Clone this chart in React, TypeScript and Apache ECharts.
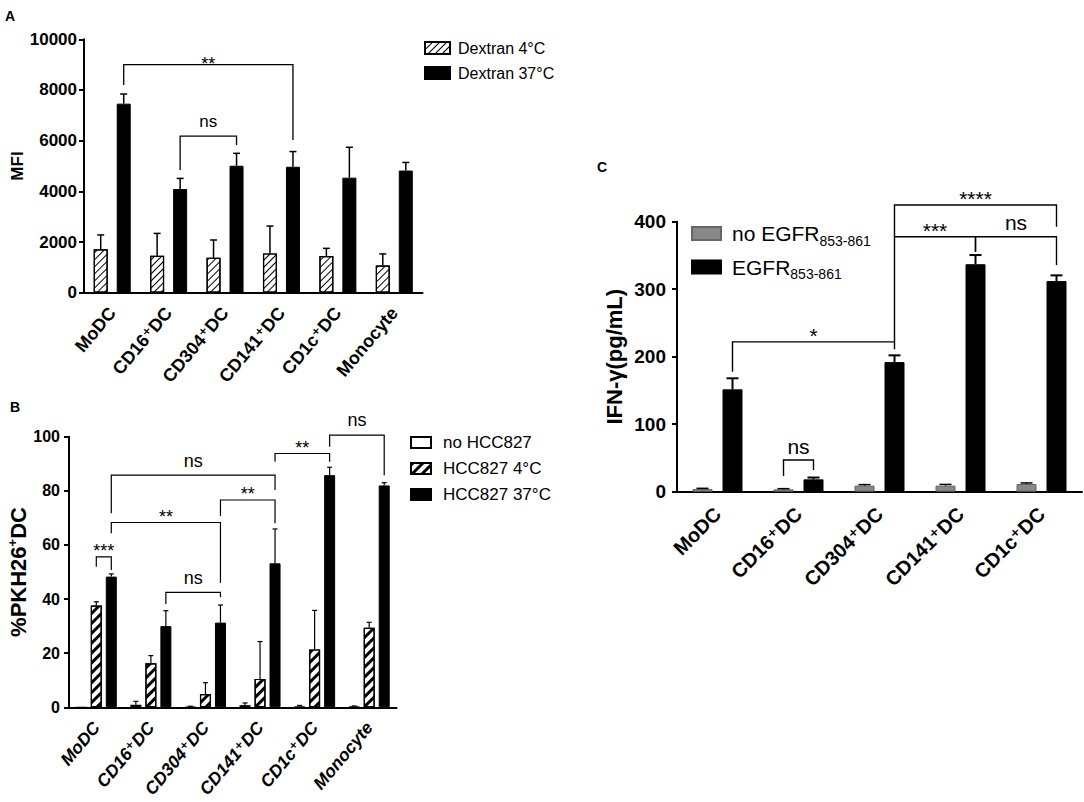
import React, { useEffect, useRef } from "react";
import * as echarts from "echarts";

// ---------- data ----------
const catsAB = ["MoDC", "CD16⁺DC", "CD304⁺DC", "CD141⁺DC", "CD1c⁺DC", "Monocyte"];
const catsC = ["MoDC", "CD16⁺DC", "CD304⁺DC", "CD141⁺DC", "CD1c⁺DC"];

const ticksA = [0, 2000, 4000, 6000, 8000, 10000];
const dextran4 = [1710, 1460, 1380, 1550, 1450, 1070];
const dextran4Err = [2280, 2340, 2080, 2630, 1750, 1530];
const dextran37 = [7460, 4090, 5010, 4970, 4540, 4820];
const dextran37Err = [7840, 4510, 5500, 5570, 5740, 5140];

const noHcc = [0, 0.9, 0.2, 0.8, 0.3, 0.3];
const noHccErr = [0, 2.2, 0.4, 1.6, 0.7, 0.5];
const hcc4 = [37.6, 16.3, 4.9, 10.5, 21.4, 29.4];
const hcc4Err = [39.0, 19.1, 9.1, 24.3, 35.8, 31.4];
const hcc37 = [48.3, 30.0, 31.3, 53.2, 85.8, 82.0];
const hcc37Err = [49.3, 35.7, 37.8, 65.9, 88.7, 83.0];

const noEgfr = [4, 3.5, 9, 9, 11.4];
const noEgfrErr = [5, 4.5, 10.5, 10.8, 13];
const egfr = [151.6, 18.3, 192, 337, 312];
const egfrErr = [168, 21, 202, 350.6, 320.5];

// brackets: a/b category index, as/bs bar index in group, top & end values, label
const bracketsA = [
  { a: 0, as: 1, b: 3, bs: 1, top: 9000, ya: 8200, yb: 6030, t: "**" },
  { a: 1, as: 1, b: 2, bs: 1, top: 6180, ya: 4840, yb: 5830, t: "ns" },
];
const bracketsB = [
  { a: 0, as: 1, b: 0, bs: 2, top: 55.6, ya: 51.9, yb: 50.7, t: "***" },
  { a: 0, as: 2, b: 2, bs: 2, top: 68.3, ya: 64.3, yb: 45.9, t: "**" },
  { a: 1, as: 2, b: 2, bs: 2, top: 42.5, ya: 38.2, yb: 40.7, t: "ns" },
  { a: 2, as: 2, b: 3, bs: 2, top: 76.6, ya: 70.7, yb: 68.0, t: "**" },
  { a: 0, as: 2, b: 3, bs: 2, top: 85.8, ya: 71.7, yb: 80.3, t: "ns" },
  { a: 3, as: 2, b: 4, bs: 2, top: 93.8, ya: 90.7, yb: 90.7, t: "**" },
  { a: 4, as: 2, b: 5, bs: 2, top: 100.6, ya: 96.3, yb: 85.8, t: "ns" },
];
const bracketsC = [
  { a: 0, as: 1, b: 2, bs: 1, top: 222, ya: 177.8, yb: 210.9, t: "*" },
  { a: 1, as: 0, b: 1, bs: 1, top: 47, ya: 23.3, yb: 32, t: "ns" },
  { a: 2, as: 1, b: 3, bs: 1, top: 377.8, ya: 222, yb: 355.6, t: "***" },
  { a: 3, as: 1, b: 4, bs: 1, top: 377.8, ya: 355.6, yb: 335.8, t: "ns" },
  { a: 2, as: 1, b: 4, bs: 1, top: 424.7, ya: 377.8, yb: 392.6, t: "****" },
];

// ---------- helpers ----------
const FONT = "'Liberation Sans', Arial, Helvetica, 'DejaVu Sans', sans-serif";

type Geo = { n: number; w: number; g: number };
const geoA: Geo = { n: 2, w: 14, g: 9 };
const geoB: Geo = { n: 3, w: 11, g: 4 };
const geoC: Geo = { n: 2, w: 20, g: 10 };

function offsetOf(geo: Geo, k: number) {
  const total = geo.n * geo.w + (geo.n - 1) * geo.g;
  return -total / 2 + geo.w / 2 + k * (geo.w + geo.g);
}

function errSeries(grid: number, vals: number[], errs: number[], k: number, geo: Geo, cap: number, lw: number) {
  return {
    type: "custom",
    xAxisIndex: grid,
    yAxisIndex: grid,
    z: 5,
    silent: true,
    data: vals.map((v, i) => [i, v, errs[i]]),
    renderItem: (params: any, api: any) => {
      const p0 = api.coord([api.value(0), api.value(1)]);
      const p1 = api.coord([api.value(0), api.value(2)]);
      const x = p0[0] + offsetOf(geo, k);
      if (api.value(2) <= api.value(1)) return { type: "group", children: [] };
      return {
        type: "group",
        children: [
          { type: "line", shape: { x1: x, y1: p0[1], x2: x, y2: p1[1] }, style: { stroke: "#000", lineWidth: lw } },
          { type: "line", shape: { x1: x - cap, y1: p1[1], x2: x + cap, y2: p1[1] }, style: { stroke: "#000", lineWidth: lw } },
        ],
      };
    },
  };
}

function bracketSeries(grid: number, list: any[], geo: Geo, fsAst: number, fsNs: number, lw: number, astGap: number, nsGap: number) {
  return {
    type: "custom",
    xAxisIndex: grid,
    yAxisIndex: grid,
    z: 6,
    silent: true,
    data: list.map((b) => [b.a, b.top]),
    renderItem: (params: any, api: any) => {
      const b = list[params.dataIndex];
      const pa = api.coord([b.a, b.top]);
      const pb = api.coord([b.b, b.top]);
      const xa = pa[0] + offsetOf(geo, b.as);
      const xb = pb[0] + offsetOf(geo, b.bs);
      const yT = pa[1];
      const ya = api.coord([b.a, b.ya])[1];
      const yb = api.coord([b.b, b.yb])[1];
      const isAst = b.t.indexOf("*") >= 0;
      const fs = isAst ? fsAst : fsNs;
      const ty = isAst ? yT - astGap + 0.23 * fs : yT - nsGap - 0.09 * fs;
      return {
        type: "group",
        children: [
          {
            type: "polyline",
            shape: { points: [[xa, ya], [xa, yT], [xb, yT], [xb, yb]] },
            style: { stroke: "#000", fill: "none", lineWidth: lw },
          },
          {
            type: "text",
            x: (xa + xb) / 2,
            y: ty,
            style: {
              text: b.t,
              fill: "#000",
              fontSize: fs,
              fontFamily: FONT,
              align: "center",
              verticalAlign: "middle",
              textAlign: "center",
              textVerticalAlign: "middle",
            },
          },
        ],
      };
    },
  };
}

const hatchThin = {
  symbol: "rect",
  symbolSize: 1,
  color: "#000",
  backgroundColor: "#fff",
  dashArrayX: [1, 0],
  dashArrayY: [1, 3.2],
  rotation: -Math.PI / 4,
};
const hatchThick = {
  symbol: "rect",
  symbolSize: 1,
  color: "#000",
  backgroundColor: "#fff",
  dashArrayX: [1, 0],
  dashArrayY: [2.5, 3.5],
  rotation: -Math.PI / 4,
};

function xAxisCfg(grid: number, cats: string[], fs: number, italic: boolean, margin: number, rotate: number) {
  return {
    type: "category",
    gridIndex: grid,
    data: cats,
    axisLine: { lineStyle: { color: "#000", width: 2 } },
    axisTick: { alignWithLabel: true, length: 6, lineStyle: { color: "#000", width: 2 } },
    axisLabel: {
      rotate,
      interval: 0,
      margin,
      fontSize: fs,
      fontWeight: "bold",
      fontStyle: italic ? "italic" : "normal",
      fontFamily: FONT,
      color: "#000",
    },
  };
}

function yAxisCfg(grid: number, max: number, interval: number, fs: number, margin: number) {
  return {
    type: "value",
    gridIndex: grid,
    min: 0,
    max,
    interval,
    splitLine: { show: false },
    axisLine: { show: true, lineStyle: { color: "#000", width: 2 } },
    axisTick: { show: true, length: 5, lineStyle: { color: "#000", width: 2 } },
    axisLabel: {
      fontSize: fs,
      fontWeight: "bold",
      fontFamily: FONT,
      color: "#000",
      margin,
      formatter: (v: number) => String(v),
    },
  };
}

function App() {
  const ref = useRef<HTMLDivElement>(null);
  useEffect(() => {
    if (!ref.current) return;
    const chart = echarts.init(ref.current, undefined, { renderer: "svg" });
    const option: any = {
      animation: false,
      backgroundColor: "#fff",
      textStyle: { fontFamily: FONT },
      grid: [
        { left: 84, top: 39.3, width: 338.5, height: 253.4 },
        { left: 69, top: 436.7, width: 327.5, height: 270.6 },
        { left: 677, top: 221.7, width: 405, height: 270 },
      ],
      xAxis: [
        xAxisCfg(0, catsAB, 18, false, 17, 50),
        xAxisCfg(1, catsAB, 17.5, true, 17, 50),
        xAxisCfg(2, catsC, 20, false, 19, 45),
      ],
      yAxis: [
        {
          ...yAxisCfg(0, ticksA[ticksA.length - 1], ticksA[1] - ticksA[0], 17, 7),
          name: "MFI",
          nameLocation: "middle",
          nameRotate: 90,
          nameGap: 58,
          nameTextStyle: { fontSize: 17, fontWeight: "bold", fontFamily: FONT, color: "#000" },
        },
        {
          ...yAxisCfg(1, 100, 20, 16, 9),
          name: "{b|%PKH26}{s|+}{b|DC}",
          nameLocation: "middle",
          nameRotate: 90,
          nameGap: 39,
          nameTextStyle: {
            rich: {
              b: { fontSize: 22, fontWeight: "bold", fontFamily: FONT, color: "#000" },
              s: { fontSize: 13, fontWeight: "bold", fontFamily: FONT, color: "#000", padding: [0, 0, 11, 0] },
            },
          },
        },
        {
          ...yAxisCfg(2, 400, 100, 19, 11),
          name: "IFN-γ(pg/mL)",
          nameLocation: "middle",
          nameRotate: 90,
          nameGap: 52,
          nameTextStyle: { fontSize: 22, fontWeight: "bold", fontFamily: FONT, color: "#000" },
        },
      ],
      legend: [
        {
          orient: "vertical",
          left: 419,
          top: 35,
          itemWidth: 25,
          itemHeight: 12,
          itemGap: 9,
          icon: "rect",
          data: ["Dextran 4°C", "Dextran 37°C"],
          textStyle: { fontSize: 16, fontFamily: FONT, color: "#000", padding: [0, 0, 0, 3] },
        },
        {
          orient: "vertical",
          left: 405,
          top: 429,
          itemWidth: 20,
          itemHeight: 11,
          itemGap: 9,
          icon: "rect",
          data: ["no HCC827", "HCC827 4°C", "HCC827 37°C"],
          textStyle: { fontSize: 17, fontFamily: FONT, color: "#000", padding: [0, 0, 0, 7] },
        },
        {
          orient: "vertical",
          left: 686,
          top: 218,
          itemWidth: 29,
          itemHeight: 13,
          itemGap: 9,
          icon: "rect",
          data: ["no EGFR", "EGFR"],
          formatter: (n: string) => `{m|${n}}{s|853-861}`,
          textStyle: {
            color: "#000",
            padding: [0, 0, 0, 6],
            rich: {
              m: { fontSize: 21, fontFamily: FONT, color: "#000" },
              s: { fontSize: 14, fontFamily: FONT, color: "#000", padding: [14, 0, 0, 0] },
            },
          },
        },
      ],
      graphic: [
        { type: "text", left: 5, top: 9, style: { text: "A", fontSize: 14, fontWeight: "bold", fontFamily: FONT, fill: "#000" } },
        { type: "text", left: 10, top: 400, style: { text: "B", fontSize: 14, fontWeight: "bold", fontFamily: FONT, fill: "#000" } },
        { type: "text", left: 597, top: 160, style: { text: "C", fontSize: 14, fontWeight: "bold", fontFamily: FONT, fill: "#000" } },
      ],
      series: [
        // Panel A
        {
          name: "Dextran 4°C",
          type: "bar",
          xAxisIndex: 0,
          yAxisIndex: 0,
          data: dextran4,
          barWidth: geoA.w,
          barGap: (geoA.g / geoA.w) * 100 + "%",
          itemStyle: { color: "#fff", borderColor: "#000", borderWidth: 1.2, decal: hatchThin },
        },
        {
          name: "Dextran 37°C",
          type: "bar",
          xAxisIndex: 0,
          yAxisIndex: 0,
          data: dextran37,
          barWidth: geoA.w,
          barGap: (geoA.g / geoA.w) * 100 + "%",
          itemStyle: { color: "#000", borderColor: "#000", borderWidth: 1 },
        },
        errSeries(0, dextran4, dextran4Err, 0, geoA, 3.5, 1.5),
        errSeries(0, dextran37, dextran37Err, 1, geoA, 3.5, 1.5),
        bracketSeries(0, bracketsA, geoA, 18, 17, 1.3, 5, 13),
        // Panel B
        {
          name: "no HCC827",
          type: "bar",
          xAxisIndex: 1,
          yAxisIndex: 1,
          data: noHcc,
          barWidth: geoB.w,
          barGap: (geoB.g / geoB.w) * 100 + "%",
          itemStyle: { color: "#fff", borderColor: "#000", borderWidth: 1.2 },
        },
        {
          name: "HCC827 4°C",
          type: "bar",
          xAxisIndex: 1,
          yAxisIndex: 1,
          data: hcc4,
          barWidth: geoB.w,
          barGap: (geoB.g / geoB.w) * 100 + "%",
          itemStyle: { color: "#fff", borderColor: "#000", borderWidth: 1.2, decal: hatchThick },
        },
        {
          name: "HCC827 37°C",
          type: "bar",
          xAxisIndex: 1,
          yAxisIndex: 1,
          data: hcc37,
          barWidth: geoB.w,
          barGap: (geoB.g / geoB.w) * 100 + "%",
          itemStyle: { color: "#000", borderColor: "#000", borderWidth: 1 },
        },
        errSeries(1, noHcc, noHccErr, 0, geoB, 2.5, 1.2),
        errSeries(1, hcc4, hcc4Err, 1, geoB, 2.5, 1.2),
        errSeries(1, hcc37, hcc37Err, 2, geoB, 2.5, 1.2),
        bracketSeries(1, bracketsB, geoB, 18, 18, 1.2, 10, 13),
        // Panel C
        {
          name: "no EGFR",
          type: "bar",
          xAxisIndex: 2,
          yAxisIndex: 2,
          data: noEgfr,
          barWidth: geoC.w,
          barGap: (geoC.g / geoC.w) * 100 + "%",
          itemStyle: { color: "#888", borderColor: "#666", borderWidth: 1 },
        },
        {
          name: "EGFR",
          type: "bar",
          xAxisIndex: 2,
          yAxisIndex: 2,
          data: egfr,
          barWidth: geoC.w,
          barGap: (geoC.g / geoC.w) * 100 + "%",
          itemStyle: { color: "#000", borderColor: "#000", borderWidth: 1 },
        },
        errSeries(2, noEgfr, noEgfrErr, 0, geoC, 6, 1.5),
        errSeries(2, egfr, egfrErr, 1, geoC, 6, 2),
        bracketSeries(2, bracketsC, geoC, 21, 21, 1.4, 11, 12),
      ],
    };
    chart.setOption(option);
    return () => chart.dispose();
  }, []);
  return <div ref={ref} style={{ position: "absolute", left: 0, top: 0, width: 1084, height: 802, background: "#fff" }} />;
}

export default App;
